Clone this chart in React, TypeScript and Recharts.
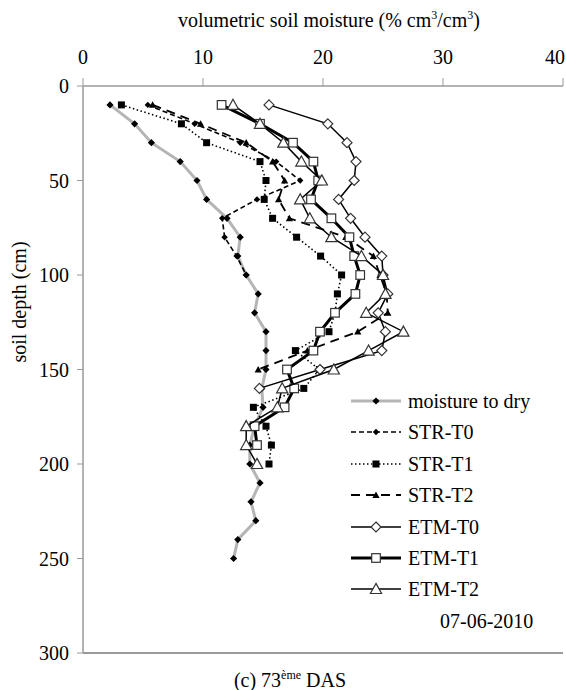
import React from "react";
import { ScatterChart, Scatter, XAxis, YAxis, ReferenceLine } from "recharts";

// depth (cm) and volumetric moisture (%) per profile
const depthDry = [10, 20, 30, 40, 50, 60, 70, 80, 90, 100, 110, 120, 130, 140, 150, 160, 170, 180, 190, 200, 210, 220, 230, 240, 250];
const dryValues = [2.25, 4.3, 5.7, 8.1, 9.5, 10.3, 12.0, 13.1, 12.9, 13.6, 14.6, 14.3, 15.25, 15.25, 15.25, 14.9, 15.0, 14.3, 13.9, 13.9, 14.75, 14.0, 14.4, 12.9, 12.55];

const depthStrT0 = [10, 20, 30, 40, 50, 60, 70, 80, 90, 100];
const strT0 = [5.4, 9.3, 13.1, 16.1, 18.1, 14.5, 11.6, 11.8, 12.8, 13.6];

const depthStrT1 = [10, 20, 30, 40, 50, 60, 70, 80, 90, 100, 110, 120, 130, 140, 150, 160, 170, 180, 190, 200];
const strT1 = [3.2, 8.2, 10.3, 14.75, 15.25, 15.1, 15.8, 17.8, 19.8, 21.55, 21.2, 21.0, 20.5, 17.7, 19.7, 18.4, 14.2, 15.25, 15.7, 15.5];

const depthStrT2 = [10, 20, 30, 40, 50, 60, 70, 80, 90, 100, 110, 120, 130, 140, 150];
const strT2 = [5.8, 9.8, 13.6, 15.8, 16.8, 16.3, 17.2, 21.9, 24.2, 24.75, 25.3, 25.4, 22.9, 18.7, 14.6];

const depthEtmT0 = [10, 20, 30, 40, 50, 60, 70, 80, 90, 100, 110, 120, 130, 140, 150, 160];
const etmT0 = [15.5, 20.4, 22.0, 22.75, 22.6, 21.3, 22.3, 23.5, 24.9, 25.0, 25.4, 24.6, 25.2, 24.9, 19.75, 14.7];

const depthEtmT1 = [10, 20, 30, 40, 50, 60, 70, 80, 90, 100, 110, 120, 130, 140, 150, 160, 170, 180, 190];
const etmT1 = [11.55, 14.75, 17.5, 19.2, 19.6, 19.0, 20.7, 22.2, 22.6, 23.1, 22.7, 21.0, 19.75, 19.2, 17.0, 17.6, 16.8, 14.3, 14.5];

const depthEtmT2 = [10, 20, 30, 40, 50, 60, 70, 80, 90, 100, 110, 120, 130, 140, 150, 160, 170, 180, 190, 200];
const etmT2 = [12.5, 14.75, 16.7, 18.2, 19.9, 18.1, 18.9, 20.7, 23.2, 25.0, 25.2, 23.6, 26.7, 23.8, 20.9, 16.6, 16.2, 13.6, 13.6, 14.5];

const xTicks = [0, 10, 20, 30, 40];
const yTicks = [0, 50, 100, 150, 200, 250, 300];

const FONT = "'Liberation Serif', 'Times New Roman', serif";
const AXIS = "#9a9a9a";

type MarkKind = "diamond" | "square" | "triangle";

const toPoints = (depths: number[], values: number[]) =>
  depths.map((d, i) => ({ x: values[i], y: d }));

const series = [
  { name: "moisture to dry", data: toPoints(depthDry, dryValues), stroke: "#b5b5b5", width: 3, dash: undefined, mark: "diamond" as MarkKind, filled: true, s: 3.6 },
  { name: "STR-T0", data: toPoints(depthStrT0, strT0), stroke: "#000", width: 1.6, dash: "5 3", mark: "diamond" as MarkKind, filled: true, s: 3.2 },
  { name: "STR-T1", data: toPoints(depthStrT1, strT1), stroke: "#000", width: 1.6, dash: "1.5 2.5", mark: "square" as MarkKind, filled: true, s: 3.5 },
  { name: "STR-T2", data: toPoints(depthStrT2, strT2), stroke: "#000", width: 1.8, dash: "9 6", mark: "triangle" as MarkKind, filled: true, s: 3.6 },
  { name: "ETM-T0", data: toPoints(depthEtmT0, etmT0), stroke: "#000", width: 1.5, dash: undefined, mark: "diamond" as MarkKind, filled: false, s: 5 },
  { name: "ETM-T1", data: toPoints(depthEtmT1, etmT1), stroke: "#000", width: 3, dash: undefined, mark: "square" as MarkKind, filled: false, s: 4.3 },
  { name: "ETM-T2", data: toPoints(depthEtmT2, etmT2), stroke: "#000", width: 1.5, dash: undefined, mark: "triangle" as MarkKind, filled: false, s: 5.6 },
];

const Mark = ({ cx, cy, kind, filled, s }: { cx: number; cy: number; kind: MarkKind; filled: boolean; s: number }) => {
  const fill = filled ? "#000" : "#fff";
  const stroke = filled ? "none" : "#333";
  if (kind === "square") {
    return <rect x={cx - s} y={cy - s} width={s * 2} height={s * 2} fill={fill} stroke={stroke} strokeWidth={1.2} />;
  }
  if (kind === "triangle") {
    return (
      <polygon
        points={`${cx},${cy - s} ${cx + s},${cy + s * 0.8} ${cx - s},${cy + s * 0.8}`}
        fill={fill}
        stroke={stroke}
        strokeWidth={1.2}
      />
    );
  }
  return (
    <polygon
      points={`${cx},${cy - s} ${cx + s},${cy} ${cx},${cy + s} ${cx - s},${cy}`}
      fill={fill}
      stroke={stroke}
      strokeWidth={1.2}
    />
  );
};

// top axis tick; the last label is pulled in so it stays inside the frame
const TopTick = (props: any) => {
  const { x, y, payload } = props;
  const last = payload.value === xTicks[xTicks.length - 1];
  return (
    <text
      x={last ? 565 : x}
      y={y}
      textAnchor={last ? "end" : "middle"}
      fontSize={20}
      fontFamily={FONT}
      fill="#000"
    >
      {payload.value}
    </text>
  );
};

const LeftTick = (props: any) => {
  const { x, y, payload } = props;
  return (
    <text x={x} y={y + 7} textAnchor="end" fontSize={20} fontFamily={FONT} fill="#000">
      {payload.value}
    </text>
  );
};

const legendTop = 401;
const legendStep = 31.4;

export default function App() {
  return (
    <div style={{ position: "absolute", left: 0, top: 0, width: 566, height: 690, background: "#fff", fontFamily: FONT, color: "#000" }}>
      <ScatterChart width={566} height={690} margin={{ top: 56, right: 3, bottom: 37, left: 53 }} style={{ fontFamily: FONT }}>
        <XAxis
          type="number"
          dataKey="x"
          orientation="top"
          domain={[0, 40]}
          ticks={xTicks}
          interval={0}
          height={30}
          tickSize={8}
          tickMargin={14}
          tick={<TopTick />}
          axisLine={{ stroke: AXIS, strokeWidth: 1.5 }}
          tickLine={{ stroke: AXIS }}
        />
        <YAxis
          type="number"
          dataKey="y"
          reversed
          domain={[0, 300]}
          ticks={yTicks}
          interval={0}
          width={30}
          tickSize={6}
          tickMargin={8}
          tick={<LeftTick />}
          axisLine={{ stroke: AXIS, strokeWidth: 1.5 }}
          tickLine={{ stroke: AXIS }}
        />
        <ReferenceLine y={300} stroke={AXIS} strokeWidth={2} />
        {series.map((sr) => (
          <Scatter
            key={sr.name}
            name={sr.name}
            data={sr.data}
            isAnimationActive={false}
            line={{ stroke: sr.stroke, strokeWidth: sr.width, strokeDasharray: sr.dash }}
            lineType="joint"
            shape={(p: any) => <Mark cx={p.cx} cy={p.cy} kind={sr.mark} filled={sr.filled} s={sr.s} />}
          />
        ))}
      </ScatterChart>

      {/* titles */}
      <div style={{ position: "absolute", left: 129, top: 8, width: 400, textAlign: "center", fontSize: 20, lineHeight: "24px" }}>
        volumetric soil moisture (% cm<sup style={{ fontSize: 12, lineHeight: 0 }}>3</sup>/cm<sup style={{ fontSize: 12, lineHeight: 0 }}>3</sup>)
      </div>
      <div
        style={{
          position: "absolute",
          left: 19 - 100,
          top: 302 - 12,
          width: 200,
          height: 24,
          lineHeight: "24px",
          textAlign: "center",
          fontSize: 20,
          transform: "rotate(-90deg)",
        }}
      >
        soil depth (cm)
      </div>
      <div style={{ position: "absolute", left: 190, top: 668, width: 200, textAlign: "center", fontSize: 20, lineHeight: "24px" }}>
        (c) 73<sup style={{ fontSize: 12, lineHeight: 0 }}>ème</sup> DAS
      </div>

      {/* legend */}
      {series.map((sr, i) => {
        const cy = legendTop + i * legendStep;
        return (
          <div key={sr.name} style={{ position: "absolute", left: 348, top: cy - 12, height: 24, display: "flex", alignItems: "center" }}>
            <svg width={56} height={24}>
              <line x1={3} x2={53} y1={12} y2={12} stroke={sr.stroke} strokeWidth={sr.width} strokeDasharray={sr.dash} />
              <Mark cx={28} cy={12} kind={sr.mark} filled={sr.filled} s={sr.s} />
            </svg>
            <span style={{ marginLeft: 4, fontSize: 20, lineHeight: "24px", whiteSpace: "nowrap" }}>{sr.name}</span>
          </div>
        );
      })}
      <div style={{ position: "absolute", left: 440, top: 621 - 12, fontSize: 20, lineHeight: "24px" }}>07-06-2010</div>
    </div>
  );
}
